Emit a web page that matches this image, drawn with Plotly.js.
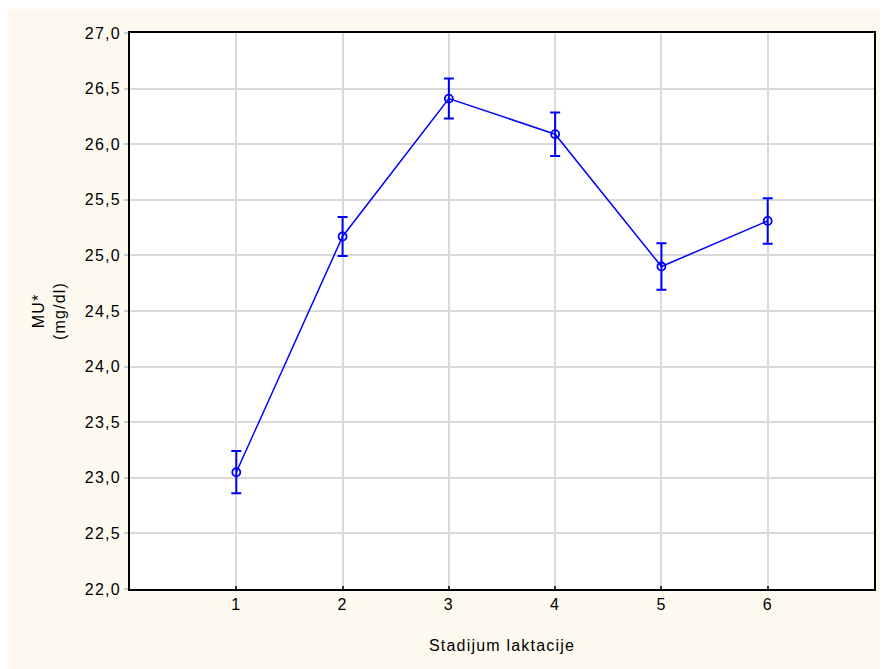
<!DOCTYPE html>
<html>
<head>
<meta charset="utf-8">
<script src="https://cdn.plot.ly/plotly-3.0.1.min.js"></script>
<style>
  html, body { margin: 0; padding: 0; background: #ffffff; }
  #chart { position: absolute; left: 8px; top: 9px; width: 872px; height: 660px; }
  #chart svg text { letter-spacing: 1.2px; }
</style>
</head>
<body>
<div id="chart"></div>
<script>
const stages = [1, 2, 3, 4, 5, 6];
const meanMU = [23.05, 25.17, 26.41, 26.09, 24.90, 25.31];
const errMU = [0.19, 0.175, 0.18, 0.195, 0.21, 0.205];
const yTicks = [22.0, 22.5, 23.0, 23.5, 24.0, 24.5, 25.0, 25.5, 26.0, 26.5, 27.0];

const trace = {
  x: stages,
  y: meanMU,
  type: 'scatter',
  mode: 'lines+markers',
  line: { color: '#0000ff', width: 1.5 },
  marker: { symbol: 'circle-open', size: 8, color: '#0000ff', line: { width: 1.8, color: '#0000ff' } },
  error_y: { type: 'data', array: errMU, visible: true, color: '#0000ff', thickness: 2, width: 5 },
  showlegend: false,
  hoverinfo: 'x+y'
};

const fontFam = '"Liberation Sans", Arial, sans-serif';
const layout = {
  width: 872,
  height: 660,
  paper_bgcolor: '#fdf9ef',
  plot_bgcolor: '#ffffff',
  separators: ', ',
  margin: { l: 122, r: 6, t: 24, b: 80, pad: 0 },
  font: { family: fontFam, size: 16, color: '#000000' },
  xaxis: {
    range: [0, 7],
    tickvals: stages,
    ticktext: stages.map(String),
    showgrid: true,
    gridcolor: '#d9d9d9',
    gridwidth: 2,
    zeroline: false,
    showline: true,
    linecolor: '#000000',
    linewidth: 2,
    mirror: true,
    ticks: 'inside',
    ticklen: 3,
    tickwidth: 2,
    tickcolor: '#333333',
    tickfont: { family: fontFam, size: 16, color: '#000000' },
    title: { text: 'Stadijum laktacije', font: { family: fontFam, size: 16, color: '#000000' }, standoff: 28 },
    fixedrange: true
  },
  yaxis: {
    range: [22, 27],
    tickvals: yTicks,
    tickformat: '.1f',
    showgrid: true,
    gridcolor: '#d9d9d9',
    gridwidth: 2,
    zeroline: false,
    showline: true,
    linecolor: '#000000',
    linewidth: 2,
    mirror: true,
    ticks: 'outside',
    ticklen: 4,
    tickwidth: 2,
    tickcolor: '#cccccc',
    tickfont: { family: fontFam, size: 16, color: '#000000' },
    title: { text: 'MU*<br>(mg/dl)', font: { family: fontFam, size: 16, color: '#000000' }, standoff: 20 },
    fixedrange: true
  }
};

Plotly.newPlot('chart', [trace], layout, { displayModeBar: false, staticPlot: true });
</script>
</body>
</html>
